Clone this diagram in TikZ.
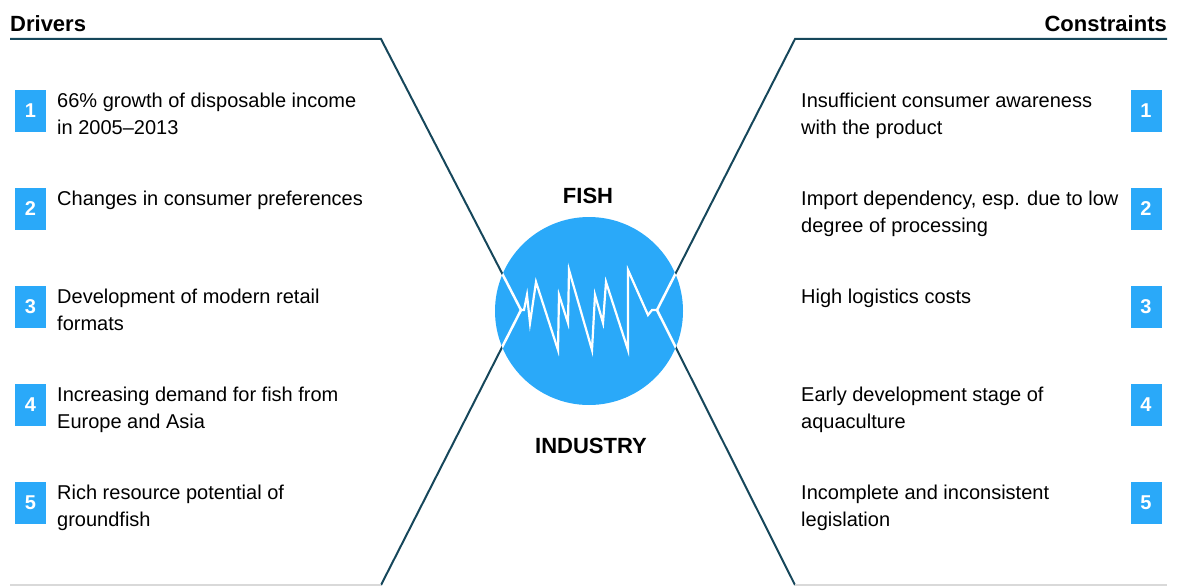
\documentclass[tikz,border=0pt]{standalone}
\usepackage{fontspec}
\setmainfont{Liberation Sans}
\definecolor{fishblue}{HTML}{2AA9F9}
\definecolor{linenavy}{HTML}{16475B}
\definecolor{rulegrey}{HTML}{D9D9D9}

\begin{document}
\begin{tikzpicture}[x=1pt,y=-1pt,
  numbox/.style={fill=fishblue,text=white,minimum width=31pt,minimum height=42pt,inner sep=0pt,font=\fontsize{20}{24}\selectfont\bfseries},
  itemtext/.style={anchor=north west,align=left,inner sep=0pt,font=\fontsize{20}{27}\selectfont},
  heading/.style={inner sep=0pt,font=\fontsize{22}{26}\selectfont\bfseries}]
\useasboundingbox (0,0) rectangle (1177,586);

% Frame lines
\coordinate (jl) at (521,310);
\coordinate (jr) at (657,310);
\draw[linenavy,line width=2pt] (10,39) -- (381,39) -- (jl) -- (381,585);
\draw[linenavy,line width=2pt] (1167,39) -- (795,39) -- (jr) -- (795,585);
\draw[rulegrey,line width=1.5pt] (10,585) -- (381,585);
\draw[rulegrey,line width=1.5pt] (795,585) -- (1167,585);

% Fish circle
\fill[fishblue] (589,311) circle (94);
\begin{scope}
\clip (589,311) circle (94);
\draw[white,line width=2.5pt] (381,39) -- (jl) -- (381,585);
\draw[white,line width=2.5pt] (795,39) -- (jr) -- (795,585);
\end{scope}
\draw[white,line width=2.2pt,line join=miter] (jl) -- (524,310) -- (527,295) -- (530,323) -- (536,282)
  -- (558,350) -- (559,295) -- (568,323) -- (569,270) -- (592,350) -- (595,295)
  -- (603,323) -- (606,282) -- (628,350) -- (628,270) -- (648,315) -- (652,310) -- (jr);

% Headings
\node[heading,anchor=base west] (drivers) at (10,32) {Drivers};
\node[heading,anchor=base east] (constraints) at (1167,32) {Constraints};
\node[heading,anchor=base] (fish) at (588,203) {FISH};
\node[heading,anchor=base] (industry) at (591,453) {INDUSTRY};

% Drivers
\node[numbox] (d1) at (30.5,111) {1};
\node[numbox] (d2) at (30.5,209) {2};
\node[numbox] (d3) at (30.5,307) {3};
\node[numbox] (d4) at (30.5,405) {4};
\node[numbox] (d5) at (30.5,503) {5};
\node[itemtext] (dt1) at (57,93) {66\% growth of disposable income\\in 2005--2013};
\node[itemtext] (dt2) at (57,191) {Changes in consumer preferences};
\node[itemtext] (dt3) at (57,289) {Development of modern retail\\formats};
\node[itemtext] (dt4) at (57,387) {Increasing demand for fish from\\Europe and Asia};
\node[itemtext] (dt5) at (57,485) {Rich resource potential of\\groundfish};

% Constraints
\node[numbox] (c1) at (1146,111) {1};
\node[numbox] (c2) at (1146,209) {2};
\node[numbox] (c3) at (1146,307) {3};
\node[numbox] (c4) at (1146,405) {4};
\node[numbox] (c5) at (1146,503) {5};
\node[itemtext] (ct1) at (801,93) {Insufficient consumer awareness\\with the product};
\node[itemtext] (ct2) at (801,191) {Import dependency, esp. due to low\\degree of processing};
\node[itemtext] (ct3) at (801,289) {High logistics costs};
\node[itemtext] (ct4) at (801,387) {Early development stage of\\aquaculture};
\node[itemtext] (ct5) at (801,485) {Incomplete and inconsistent\\legislation};
\end{tikzpicture}
\end{document}
